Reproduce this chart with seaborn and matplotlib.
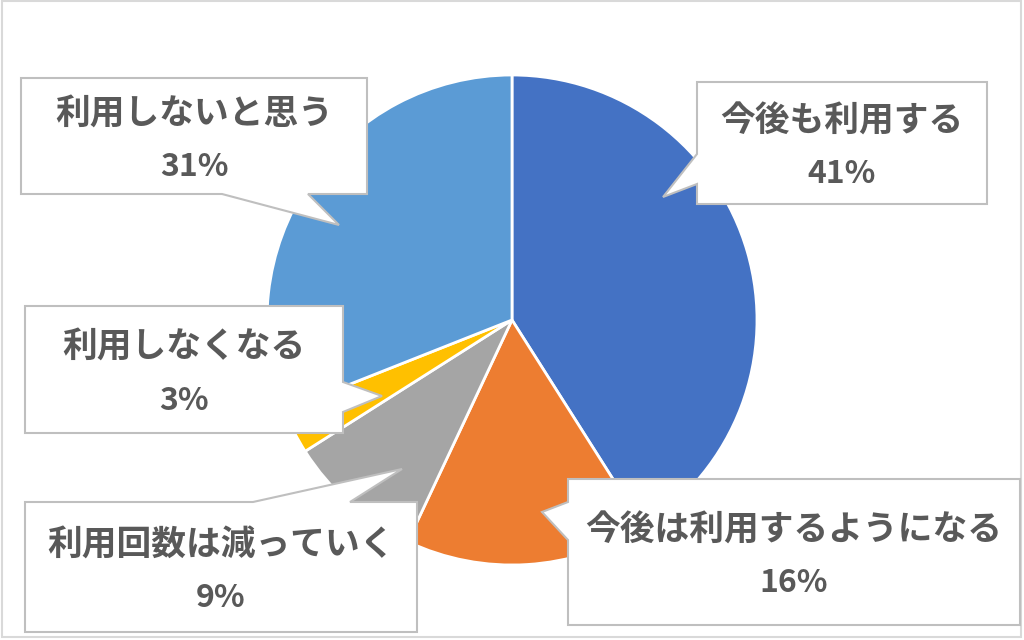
import matplotlib
matplotlib.use("Agg")
import matplotlib.pyplot as plt
import seaborn as sns
from matplotlib.patches import Polygon, Rectangle

sns.set_theme(style="white")
plt.rcParams['font.family'] = ['Noto Sans CJK JP', 'DejaVu Sans']

# ---- data ----
categories = ["今後も利用する", "今後は利用するようになる", "利用回数は減っていく", "利用しなくなる", "利用しないと思う"]
values = [41, 16, 9, 3, 31]
pct_labels = ["41%", "16%", "9%", "3%", "31%"]
colors = ["#4472C4", "#ED7D31", "#A5A5A5", "#FFC000", "#5B9BD5"]

# ---- callout layout (pixel coords, y down): box, pointer side, pointer base, tip ----
callouts = [
    ((697, 82, 987, 204), "left", (154, 184), (663, 197)),
    ((568, 479, 1020, 625), "left", (502, 540), (542, 512)),
    ((25, 502, 417, 632), "top", (253, 350), (402, 469)),
    ((25, 306, 343, 433), "right", (382, 412), (382, 396)),
    ((21, 78, 367, 194), "bottom", (222, 308), (339, 225)),
]

W, H = 1024, 640
fig = plt.figure(figsize=(W / 100, H / 100), dpi=100)
fig.patch.set_facecolor("white")

cx, cy, r = 512, 320, 245
ax = fig.add_axes([(cx - r) / W, (H - cy - r) / H, 2 * r / W, 2 * r / H])
ax.pie(values, colors=colors, startangle=90, counterclock=False, radius=1,
       wedgeprops=dict(edgecolor="white", linewidth=2))
ax.set_xlim(-1, 1)
ax.set_ylim(-1, 1)
ax.set_aspect("auto")
ax.axis("off")

ov = fig.add_axes([0, 0, 1, 1], zorder=5)
ov.set_xlim(0, W)
ov.set_ylim(H, 0)
ov.axis("off")
ov.patch.set_alpha(0)

ov.add_patch(Rectangle((2, 1), W - 5, H - 4, facecolor="none", edgecolor="#D9D9D9", linewidth=1.5))


def callout_poly(box, side, base, tip):
    x0, y0, x1, y1 = box
    b1, b2 = base
    if side == "top":
        pts = [(x0, y0), (b1, y0), tip, (b2, y0), (x1, y0), (x1, y1), (x0, y1)]
    elif side == "right":
        pts = [(x0, y0), (x1, y0), (x1, b1), tip, (x1, b2), (x1, y1), (x0, y1)]
    elif side == "bottom":
        pts = [(x0, y0), (x1, y0), (x1, y1), (b2, y1), tip, (b1, y1), (x0, y1)]
    else:
        pts = [(x0, y0), (x1, y0), (x1, y1), (x0, y1), (x0, b2), tip, (x0, b1)]
    return pts


for cat, pct, (box, side, base, tip) in zip(categories, pct_labels, callouts):
    ov.add_patch(Polygon(callout_poly(box, side, base, tip), closed=True,
                         facecolor="white", edgecolor="#BFBFBF", linewidth=1.5))
    bx = (box[0] + box[2]) / 2
    by = (box[1] + box[3]) / 2
    ov.text(bx, by - 22, cat, ha="center", va="center", fontsize=25,
            fontweight="bold", color="#595959")
    ov.text(bx, by + 31, pct, ha="center", va="center", fontsize=23,
            fontweight="bold", color="#595959")

fig.savefig("out.png", dpi=100)
